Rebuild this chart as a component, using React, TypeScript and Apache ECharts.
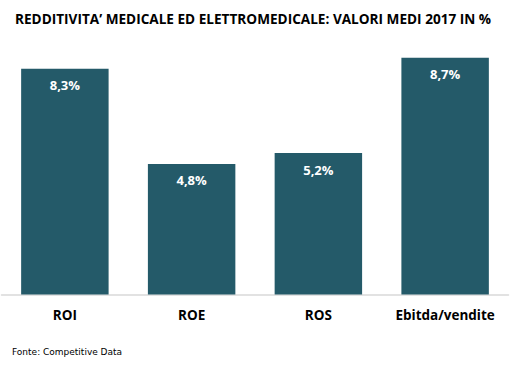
import React, { useEffect, useRef } from "react";
import * as echarts from "echarts";

const categories = ["ROI", "ROE", "ROS", "Ebitda/vendite"];
const values = [8.3, 4.8, 5.2, 8.7];
const labels = ["8,3%", "4,8%", "5,2%", "8,7%"];

export default function App() {
  const ref = useRef<HTMLDivElement>(null);
  useEffect(() => {
    if (!ref.current) return;
    const chart = echarts.init(ref.current, undefined, { renderer: "svg" });
    chart.setOption({
      animation: false,
      backgroundColor: "#ffffff",
      title: {
        text: "REDDITIVITA\u2019 MEDICALE ED ELETTROMEDICALE: VALORI MEDI 2017 IN %",
        left: 10,
        top: 6,
        textStyle: { fontFamily: "Open Sans", fontWeight: "bold", fontSize: 13.6, color: "#000" },
      },
      graphic: [
        {
          type: "text",
          left: 12,
          top: 347,
          style: { text: "Fonte: Competitive Data", fontFamily: "DejaVu Sans", fontSize: 9, fill: "#000" },
        },
      ],
      grid: { left: 1.5, width: 507, top: 22.5, height: 272 },
      xAxis: {
        type: "category",
        data: categories,
        axisLine: { lineStyle: { color: "#d9d9d9", width: 1.5 } },
        axisTick: { show: false },
        axisLabel: {
          interval: 0,
          margin: 13,
          fontFamily: "Open Sans",
          fontWeight: "bold",
          fontSize: 13.5,
          color: "#000",
        },
      },
      yAxis: { type: "value", min: 0, max: 10, show: false, splitLine: { show: false } },
      series: [
        {
          type: "bar",
          data: values,
          barWidth: "69%",
          itemStyle: { color: "#245a69" },
          label: {
            show: true,
            position: "insideTop",
            distance: 10,
            formatter: (p: any) => labels[p.dataIndex],
            fontFamily: "Open Sans",
            fontWeight: "bold",
            fontSize: 13,
            color: "#ffffff",
          },
        },
      ],
    });
    return () => chart.dispose();
  }, []);
  return (
    <div
      ref={ref}
      style={{ position: "fixed", left: 0, top: 0, width: 528, height: 369 }}
    />
  );
}
